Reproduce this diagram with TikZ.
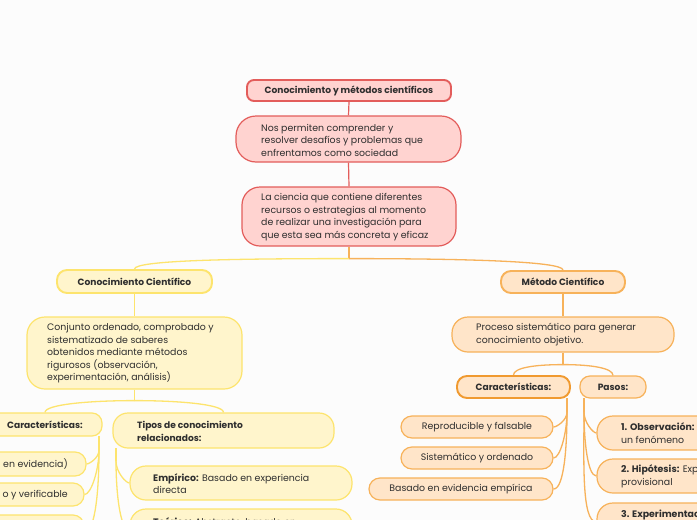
\documentclass[tikz,border=0pt]{standalone}
\usepackage{fontspec}
\setmainfont{Poppins}
\usetikzlibrary{calc}
\definecolor{bgc}{HTML}{FCFCFC}
\definecolor{redln}{HTML}{E35D5B}
\definecolor{redfl}{HTML}{FFD3D0}
\definecolor{yelln}{HTML}{FDE46D}
\definecolor{yelfl}{HTML}{FFF5CC}
\definecolor{orgln}{HTML}{F7B25A}
\definecolor{orgdk}{HTML}{F09A30}
\definecolor{orgfl}{HTML}{FFE5C9}
\definecolor{txt}{HTML}{2E2E2E}
\begin{document}
\begin{tikzpicture}[x=1pt,y=-1pt,
  every node/.style={font=\fontsize{9.4}{12.5}\selectfont, text=txt},
  bf/.style={font=\fontsize{9.1}{12.5}\selectfont\bfseries},
  bx/.style 2 args={minimum width=#1pt, minimum height=#2pt, inner sep=0pt},
  redbox/.style={draw=redln, fill=redfl, line width=1.2pt},
  yelbox/.style={draw=yelln, fill=yelfl, line width=1.2pt},
  orgbox/.style={draw=orgln, fill=orgfl, line width=1.2pt},
  mainln/.style={line width=1.9pt},
  lt/.style={anchor=west, align=left, inner sep=0pt},
  rt/.style={anchor=east, align=right, inner sep=0pt},
  redc/.style={draw=redln, line width=1.2pt},
  yelc/.style={draw=yelln, line width=1.3pt},
  orgc/.style={draw=orgln, line width=1.3pt},
  fanl/.style={out=-90, in=0, out looseness=1.1, in looseness=0.35},
  fanr/.style={out=-90, in=180, out looseness=1.1, in looseness=0.35}
]
\useasboundingbox (0,0) rectangle (697,520);
\clip (0,0) rectangle (697,520);
\fill[bgc] (0,0) rectangle (697,520);

% top (red)
\node[redbox, mainln, bx={204}{21}, rounded corners=7pt, bf] (title) at (349,90.5) {Conocimiento y métodos científicos};
\node[redbox, bx={225}{46}, rounded corners=20pt] (b2) at (348.5,139) {};
\node[lt] (t2) at (261,140) {Nos permiten comprender y\\resolver desafíos y problemas que\\enfrentamos como sociedad};
\node[redbox, bx={214}{59}, rounded corners=18pt] (b3) at (349,216.5) {};
\node[lt] (t3) at (261,217) {La ciencia que contiene diferentes\\recursos o estrategias al momento\\de realizar una investigación para\\que esta sea más concreta y eficaz};

% left (yellow)
\node[yelbox, mainln, bx={155}{23}, rounded corners=10pt, bf] (cc) at (134.5,281.5) {Conocimiento Científico};
\node[yelbox, bx={215}{72}, rounded corners=18pt] (cd) at (134.5,353) {};
\node[lt] (tcd) at (47,353.5) {Conjunto ordenado, comprobado y\\sistematizado de saberes\\obtenidos mediante métodos\\rigurosos (observación,\\experimentación, análisis)};
\node[yelbox, bx={114}{23}, rounded corners=10pt, bf] (lcar) at (45,424.5) {Características:};
\node[yelbox, bx={221}{35}, rounded corners=15pt] (tipos) at (223.5,430.5) {};
\node[lt, bf] (ttip) at (137,431.5) {Tipos de conocimiento\\relacionados:};
\node[yelbox, bx={146}{24}, rounded corners=11pt] (l1) at (13,464) {};
\node[rt] (tl1) at (68,464) {en evidencia)};
\node[yelbox, bx={144}{23}, rounded corners=11pt] (l2) at (12,494.5) {};
\node[rt] (tl2) at (68,495) {o y verificable};
\node[yelbox, bx={144}{34}, rounded corners=11pt] (l3) at (12,532) {};
\node[yelbox, bx={222}{34}, rounded corners=16pt] (emp) at (241,483) {};
\node[lt] (temp) at (153,483.5) {\textbf{Empírico:} Basado en experiencia\\directa};
\node[yelbox, bx={222}{42}, rounded corners=16pt] (teo) at (241,530) {};
\node[lt] (tteo) at (153,522) {\textbf{Teórico:} Abstracto, basado en};

% right (orange)
\node[orgbox, mainln, bx={124}{22}, rounded corners=10pt, bf] (mc) at (563,282) {Método Científico};
\node[orgbox, bx={222}{35}, rounded corners=16pt] (proc) at (563,334.5) {};
\node[lt] (tproc) at (476,334.5) {Proceso sistemático para generar\\conocimiento objetivo.};
\node[orgbox, mainln, draw=orgdk, bx={113}{22}, rounded corners=10pt, bf] (mcar) at (513.5,387) {Características:};
\node[orgbox, bx={66}{22}, rounded corners=10pt, bf] (pasos) at (613,387) {Pasos:};
\node[orgbox, bx={152}{22}, rounded corners=11pt] (r1) at (477,427) {Reproducible y falsable};
\node[orgbox, bx={152}{22}, rounded corners=11pt] (r2) at (477,458) {Sistemático y ordenado};
\node[orgbox, bx={184}{22}, rounded corners=11pt] (r3) at (461,489) {Basado en evidencia empírica};
\node[orgbox, bx={163}{34}, rounded corners=16pt] (p1) at (678.5,433) {};
\node[lt] (tp1) at (621,433) {\textbf{1. Observación:}\\un fenómeno};
\node[orgbox, bx={163}{34}, rounded corners=16pt] (p2) at (678.5,476) {};
\node[lt] (tp2) at (621,476.5) {\textbf{2. Hipótesis:} Explicación\\provisional};
\node[orgbox, bx={163}{38}, rounded corners=16pt] (p3) at (678.5,522) {};
\node[lt] (tp3) at (621,514.5) {\textbf{3. Experimentación:}};

% connectors
\draw[redc] (title.south) -- (b2.north);
\draw[redc] (b2.south) -- (b3.north);
\coordinate (s0) at ($(b3.south)+(0,12)$);
\draw[orgc] (b3.south) -- (s0);
\draw[yelc] (s0) .. controls +(-110,0) and +(0,-9) .. (cc.north);
\draw[orgc] (s0) .. controls +(110,0) and +(0,-9) .. (mc.north);

\draw[yelc] (cc.south) -- (cd.north);
\coordinate (s1) at ($(cd.south)+(0,11)$);
\draw[yelc] (cd.south) -- (s1);
\draw[yelc] (s1) .. controls +(-45,0) and +(0,-8) .. (lcar.north);
\draw[yelc] (s1) .. controls +(45,0) and +(0,-8) .. (tipos.north);

\coordinate (ca) at (99,436);
\coordinate (cb) at (99,450);
\draw[yelc] (ca) -- (cb);
\draw[yelc] (cb) to[fanl] (l1.east);
\draw[yelc] (cb) to[fanl] (l2.east);
\draw[yelc] (cb) to[fanl] (l3.east);

\coordinate (ta) at (116,448);
\coordinate (tb) at (116,461);
\draw[yelc] (ta) -- (tb);
\draw[yelc] (tb) to[fanr] (emp.west);
\draw[yelc] (tb) to[fanr] (teo.west);

\draw[orgc] (mc.south) -- (proc.north);
\coordinate (s2) at ($(proc.south)+(0,12)$);
\draw[orgc] (proc.south) -- (s2);
\draw[orgc] (s2) .. controls +(-30,0) and +(0,-7) .. (mcar.north);
\draw[orgc] (s2) .. controls +(30,0) and +(0,-7) .. (pasos.north);

\coordinate (ma) at (567,398);
\coordinate (mb) at (567,412);
\draw[orgc] (ma) -- (mb);
\draw[orgc] (mb) to[fanl] (r1.east);
\draw[orgc] (mb) to[fanl] (r2.east);
\draw[orgc] (mb) to[fanl] (r3.east);

\coordinate (pa) at (584,398);
\coordinate (pb) at (584,412);
\draw[orgc] (pa) -- (pb);
\draw[orgc] (pb) to[fanr] (p1.west);
\draw[orgc] (pb) to[fanr] (p2.west);
\draw[orgc] (pb) to[fanr] (p3.west);
\end{tikzpicture}
\end{document}
